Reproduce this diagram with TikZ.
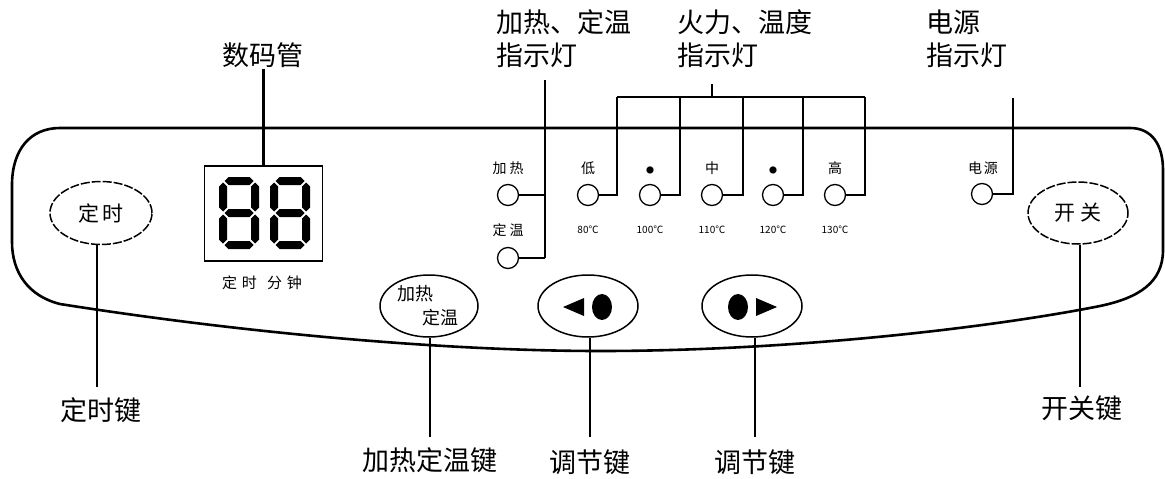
\documentclass[tikz,border=0pt]{standalone}
\usepackage{fontspec}
\setmainfont{Noto Sans CJK SC}
\usetikzlibrary{shapes.geometric}
\newcommand{\segH}[3]{\fill (#1,#3) -- ({#1+4},{#3-4}) -- ({#2-4},{#3-4}) -- (#2,#3) -- ({#2-4},{#3+4}) -- ({#1+4},{#3+4}) -- cycle;}
\newcommand{\segV}[3]{\fill (#1,#2) -- ({#1+4},{#2+4}) -- ({#1+4},{#3-4}) -- (#1,#3) -- ({#1-4},{#3-4}) -- ({#1-4},{#2+4}) -- cycle;}
\newcommand{\digitEight}[2]{%
  \segH{#1+5.5}{#1+34.5}{#2+4}
  \segH{#1+5.5}{#1+34.5}{#2+36}
  \segH{#1+5.5}{#1+34.5}{#2+68}
  \segV{#1+4}{#2+5.5}{#2+34.5}
  \segV{#1+36}{#2+5.5}{#2+34.5}
  \segV{#1+4}{#2+37.5}{#2+66.5}
  \segV{#1+36}{#2+37.5}{#2+66.5}}
\tikzset{
  biglabel/.style={inner sep=1pt, font=\fontsize{27}{29}\selectfont},
  led/.style={circle, draw, line width=1.3pt, minimum size=21pt, inner sep=0pt},
  ledlabel/.style={inner sep=0pt, font=\fontsize{14}{15}\selectfont},
  dotlabel/.style={inner sep=0pt, font=\fontsize{8}{9}\selectfont},
  templabel/.style={inner sep=0pt, font=\fontsize{10}{11}\selectfont},
  keybtn/.style={ellipse, draw, line width=1.5pt, minimum width=100pt, minimum height=62pt, inner sep=0pt},
  dkeybtn/.style={keybtn, dash pattern=on 9pt off 2pt},
  conn/.style={line width=2.2pt},
  thinconn/.style={line width=1.4pt}
}
\begin{document}
\begin{tikzpicture}[x=1pt,y=-1pt]
\path[use as bounding box, fill=white] (0,0) rectangle (1165,479);

% panel outline
\draw[line width=2.6pt] (60,128) -- (1130,128)
  .. controls (1152,128) and (1163,145) .. (1163,170) -- (1163,250)
  .. controls (1163,283) and (1138,298) .. (1100,306)
  .. controls (1000,326) and (800,351) .. (600,351)
  .. controls (450,351) and (250,334) .. (60,304)
  .. controls (28,296) and (12,272) .. (12,242) -- (12,185)
  .. controls (12,150) and (30,128) .. (60,128);

% top labels
\node[biglabel] (numl) at (263,55) {数码管};
\node[biglabel, anchor=west] (ht1) at (495,22) {加热、定温};
\node[biglabel, anchor=west] (ht2) at (495,55) {指示灯};
\node[biglabel, anchor=west] (fl1) at (676,22) {火力、温度};
\node[biglabel, anchor=west] (fl2) at (676,55) {指示灯};
\node[biglabel, anchor=west] (pw1) at (925,22) {电源};
\node[biglabel, anchor=west] (pw2) at (925,55) {指示灯};

% display
\node[draw, line width=1.5pt, minimum width=118pt, minimum height=95pt, inner sep=0pt] (disp) at (263.5,213.5) {};
\digitEight{219}{177}
\digitEight{270}{177}
\node[inner sep=0pt, font=\fontsize{15}{16}\selectfont] (displbl) at (262,283) {定\hspace{5pt}时\hspace{10pt}分\hspace{5pt}钟};
\draw[conn] (numl.south -| disp.north) -- (disp.north);

% heating / constant temp LEDs
\node[ledlabel] (lh) at (508,168) {加\hspace{3pt}热};
\node[led] (ledh) at (508,195) {};
\node[ledlabel] (lw) at (508,230) {定\hspace{3pt}温};
\node[led] (ledw) at (508,258) {};
\coordinate (hj) at (545,258);
\coordinate (htop) at (545,80);
\draw[thinconn] (htop) -- (hj);
\draw[thinconn] (ledh.east) -- (ledh.east -| hj);
\draw[conn] (ledw.east) -- (hj);

% power level LEDs
\node[ledlabel] (t1) at (588,168) {低};
\node[dotlabel] (t2) at (650,170) {●};
\node[ledlabel] (t3) at (712,168) {中};
\node[dotlabel] (t4) at (773,170) {●};
\node[ledlabel] (t5) at (835,168) {高};
\node[led] (l1) at (588,195) {};
\node[led] (l2) at (650,195) {};
\node[led] (l3) at (712,195) {};
\node[led] (l4) at (773,195) {};
\node[led] (l5) at (835,195) {};
\node[templabel] (c1) at (588,230) {80℃};
\node[templabel] (c2) at (650,230) {100℃};
\node[templabel] (c3) at (712,230) {110℃};
\node[templabel] (c4) at (773,230) {120℃};
\node[templabel] (c5) at (835,230) {130℃};
\coordinate (b1) at (617,97);
\coordinate (b2) at (680,97);
\coordinate (b3) at (743,97);
\coordinate (b4) at (803,97);
\coordinate (b5) at (865,97);
\coordinate (bt) at (712,84);
\draw[conn] (l1.east) -| (b1);
\draw[conn] (l2.east) -| (b2);
\draw[thinconn] (l3.east) -| (b3);
\draw[thinconn] (l4.east) -| (b4);
\draw[thinconn] (l5.east) -| (b5);
\draw[thinconn] (b1) -- (b5);
\draw[thinconn] (bt) -- (bt |- b1);

% power LED
\node[ledlabel] (lp) at (983,168) {电\hspace{2pt}源};
\node[led] (ledp) at (982,194) {};
\coordinate (ptop) at (1013,98);
\draw[conn] (ledp.east) -| (ptop);

% keys
\node[dkeybtn, minimum width=102pt, minimum height=63pt, font=\fontsize{21}{22}\selectfont] (ktime) at (101,213) {定\hspace{4pt}时};
\node[keybtn, minimum width=98pt] (kheat) at (429,306) {};
\node[inner sep=0pt, font=\fontsize{18}{19}\selectfont] (kh1) at (415,294) {加热};
\node[inner sep=0pt, font=\fontsize{18}{19}\selectfont] (kh2) at (440,318) {定温};
\node[keybtn] (kleft) at (588,306) {};
\node[keybtn] (kright) at (752,306) {};
\fill (563,307) -- (584,298) -- (584,316) -- cycle;
\fill (602,307) ellipse (10 and 13);
\fill (738,307) ellipse (10 and 13);
\fill (756,298) -- (777,307) -- (756,316) -- cycle;
\node[dkeybtn, font=\fontsize{21}{22}\selectfont] (kpow) at (1078,213) {开\hspace{6pt}关};

% bottom labels
\node[biglabel] (ltime) at (101,410) {定时键};
\node[biglabel] (lheat) at (430,460) {加热定温键};
\node[biglabel] (lleft) at (590,462) {调节键};
\node[biglabel] (lright) at (755,462) {调节键};
\node[biglabel] (lpow) at (1082,408) {开关键};
\coordinate (et) at (97,387);
\coordinate (eh) at (430,437);
\coordinate (el) at (590,437);
\coordinate (er) at (755,437);
\coordinate (ep) at (1080,387);
\draw[conn] (ktime.south -| et) -- (et);
\draw[conn] (kheat.south -| eh) -- (eh);
\draw[thinconn] (kleft.south -| el) -- (el);
\draw[thinconn] (kright.south -| er) -- (er);
\draw[conn] (kpow.south -| ep) -- (ep);
\end{tikzpicture}
\end{document}
